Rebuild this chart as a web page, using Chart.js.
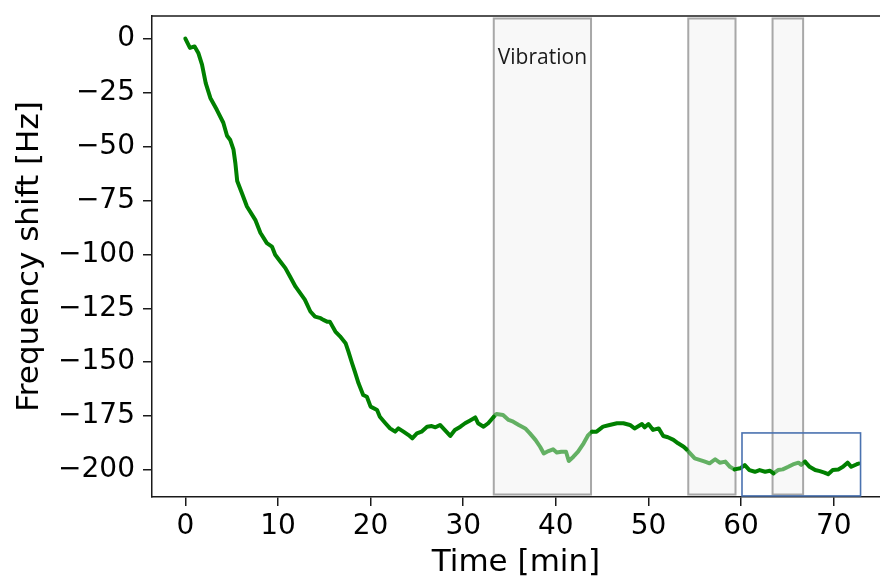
<!DOCTYPE html>
<html>
<head>
<meta charset="utf-8">
<script src="https://cdn.jsdelivr.net/npm/chart.js@4/dist/chart.umd.min.js"></script>
<style>
  html, body { margin: 0; padding: 0; background: #ffffff; }
  #wrap { width: 880px; height: 578px; }
</style>
</head>
<body>
<div id="wrap"><canvas id="c" width="880" height="578"></canvas></div>
<script>
// ---- data ----
const timeMin = [
  0, 0.5, 1.0, 1.4, 1.8, 2.2, 2.7, 3.4, 4.1, 4.5,
  4.85, 5.2, 5.4, 5.6, 6.1, 6.65, 7.55, 8.1, 8.8, 9.35,
  9.7, 10.25, 10.8, 11.3, 11.9, 12.4, 12.9, 13.5, 14.0, 14.6,
  14.9, 15.3, 15.6, 16.2, 16.7, 17.3, 17.6, 18.0, 18.3, 18.7,
  19.2, 19.6, 20.0, 20.7, 21.0, 21.6, 22.1, 22.65, 23.0, 23.55,
  24.1, 24.5, 25.0, 25.5, 26.1, 26.6, 27.0, 27.5, 28.0, 28.6,
  29.1, 29.7, 30.2, 30.7, 31.3, 31.6, 32.2, 32.7, 33.3, 33.6,
  34.3, 34.9, 35.4, 36.0, 36.7, 37.2, 37.8, 38.3, 38.7, 39.2,
  39.7, 40.1, 40.6, 41.1, 41.4, 41.9, 42.4, 43.0, 43.5, 43.9,
  44.4, 45.1, 45.8, 46.6, 47.3, 48.0, 48.5, 49.3, 49.6, 50.0,
  50.5, 51.1, 51.6, 52.1, 52.7, 53.2, 53.8, 54.1, 54.5, 55.0,
  55.6, 56.1, 56.6, 57.2, 57.7, 58.3, 58.8, 59.3, 59.9, 60.4,
  60.9, 61.5, 62.0, 62.6, 63.1, 63.5, 64.0, 64.5, 65.1, 65.6,
  66.2, 66.5, 66.9, 67.4, 68.0, 68.5, 69.0, 69.4, 69.9, 70.5,
  71.0, 71.5, 71.9, 72.5, 72.7
];
const shiftHz = [
  0, -4.3, -3.6, -6.6, -12, -20.6, -27.5, -33, -39, -45,
  -47, -51.5, -57.7, -66, -71.6, -77.8, -84, -90, -94.8, -96.4,
  -100.2, -103.3, -106.4, -110.3, -115, -118, -121, -126.5, -128.9, -129.6,
  -130.4, -131.2, -131.2, -135.8, -138, -141.2, -145, -150.5, -154.4, -159.8,
  -165.2, -166, -170.6, -172.2, -175.3, -178.3, -180.7, -182.2, -180.7, -182.2,
  -183.8, -185.3, -183, -182.2, -179.9, -179.6, -180.2, -179.1, -181.4, -184.2,
  -181.4, -179.9, -178.3, -177.1, -175.6, -178.3, -179.9, -178.3, -175.3, -174,
  -174.5, -176.8, -177.6, -179.1, -180.7, -183, -186, -189.2, -192.3, -191.2,
  -190.4, -191.9, -191.5, -191.5, -195.8, -193.8, -191.5, -187.6, -183.8, -182.2,
  -182.2, -179.9, -179.1, -178.3, -178.3, -179.1, -180.7, -178.7, -180.2, -178.7,
  -181.4, -180.7, -184.2, -184.8, -186, -187.6, -189.2, -190.4, -192.3, -194.6,
  -195.4, -196.1, -196.9, -195, -196.6, -196.1, -198.5, -199.7, -199.2, -197.7,
  -200, -200.8, -200, -200.8, -200.3, -201.5, -200, -199.7, -198.5, -197.4,
  -196.6, -197.6, -196.1, -198.5, -200, -200.5, -201.2, -201.9, -200, -199.7,
  -198.5, -196.6, -198.5, -197.3, -197
];
// vibration periods [min]
const vibrationStart = [33.3, 54.3, 63.4];
const vibrationEnd   = [43.8, 59.4, 66.7];
const vibrationLabel = "Vibration";
// highlighted window (blue box)
const boxTime = [60.1, 72.9];
const boxShift = [-182.8, -212];
// tick labels
const xTicks = [0, 10, 20, 30, 40, 50, 60, 70];
const yTicks = [0, -25, -50, -75, -100, -125, -150, -175, -200];

// ---- styles ----
const GREEN = '#008000';
const GREEN_LIGHT = 'rgba(0,128,0,0.6)';
const AXIS = '#1a1a1a';
const TICK_FONT = { family: 'DejaVu Sans', size: 28 };
const TITLE_FONT = { family: 'DejaVu Sans', size: 31, lineHeight: 1 };

const points = timeMin.map((t, i) => ({ x: t, y: shiftHz[i] }));
const inVibration = t => vibrationStart.some((s, i) => t >= s && t <= vibrationEnd[i]);

const overlayPlugin = {
  id: 'overlay',
  beforeDatasetsDraw(chart) {
    const { ctx, chartArea, scales: { x, y } } = chart;
    ctx.save();
    const yTop = chartArea.top + 2.5;
    const yBot = chartArea.bottom - 2.5;
    vibrationStart.forEach((s, i) => {
      const x0 = x.getPixelForValue(s);
      const x1 = x.getPixelForValue(vibrationEnd[i]);
      ctx.fillStyle = '#f8f8f8';
      ctx.fillRect(x0, yTop, x1 - x0, yBot - yTop);
      ctx.strokeStyle = '#a8a8a8';
      ctx.lineWidth = 2;
      ctx.strokeRect(x0, yTop, x1 - x0, yBot - yTop);
    });
    // label
    const lx = (x.getPixelForValue(vibrationStart[0]) + x.getPixelForValue(vibrationEnd[0])) / 2;
    ctx.fillStyle = '#1a1a1a';
    ctx.font = '21px "Open Sans"';
    ctx.textAlign = 'center';
    ctx.textBaseline = 'middle';
    ctx.fillText(vibrationLabel, lx, y.getPixelForValue(-8.8));
    ctx.restore();
  },
  afterDatasetsDraw(chart) {
    const { ctx, chartArea, scales: { x, y } } = chart;
    ctx.save();
    const bx0 = x.getPixelForValue(boxTime[0]);
    const bx1 = x.getPixelForValue(boxTime[1]);
    const by0 = y.getPixelForValue(boxShift[0]);
    const by1 = Math.min(y.getPixelForValue(boxShift[1]), chartArea.bottom - 1);
    ctx.strokeStyle = '#4a72b0';
    ctx.lineWidth = 1.6;
    ctx.strokeRect(bx0, by0, bx1 - bx0, by1 - by0);
    // top frame line
    ctx.strokeStyle = AXIS;
    ctx.lineWidth = 1.5;
    ctx.beginPath();
    ctx.moveTo(chartArea.left, chartArea.top);
    ctx.lineTo(chartArea.right, chartArea.top);
    ctx.stroke();
    ctx.restore();
  }
};

new Chart(document.getElementById('c'), {
  type: 'line',
  data: {
    datasets: [{
      data: points,
      borderColor: GREEN,
      borderWidth: 4,
      pointRadius: 0,
      tension: 0,
      borderJoinStyle: 'round',
      borderCapStyle: 'round',
      segment: {
        borderColor: ctx => inVibration((ctx.p0.parsed.x + ctx.p1.parsed.x) / 2) ? GREEN_LIGHT : GREEN
      }
    }]
  },
  options: {
    responsive: false,
    animation: false,
    layout: { padding: { top: 16, right: 0, bottom: 0, left: 0 } },
    plugins: { legend: { display: false }, tooltip: { enabled: false } },
    scales: {
      x: {
        type: 'linear',
        min: -3.6,
        max: 75,
        afterBuildTicks: s => { s.ticks = xTicks.map(v => ({ value: v })); },
        afterFit: s => { s.height = 81; s.paddingLeft = 0; s.paddingRight = 0; },
        grid: { drawOnChartArea: false, drawTicks: true, tickLength: 9, color: AXIS, tickColor: AXIS, lineWidth: 1.5 },
        border: { display: true, color: AXIS, width: 1.5 },
        ticks: { font: TICK_FONT, color: '#000', padding: 4, maxRotation: 0, autoSkip: false },
        title: { display: true, text: 'Time [min]', font: TITLE_FONT, color: '#000', padding: { top: 0, bottom: 0 } }
      },
      y: {
        type: 'linear',
        min: -212.5,
        max: 10.5,
        afterBuildTicks: s => { s.ticks = yTicks.map(v => ({ value: v })); },
        afterFit: s => { s.width = 152; s.paddingTop = 0; s.paddingBottom = 0; },
        grid: { drawOnChartArea: false, drawTicks: true, tickLength: 9, color: AXIS, tickColor: AXIS, lineWidth: 1.5 },
        border: { display: true, color: AXIS, width: 1.5 },
        ticks: {
          font: TICK_FONT, color: '#000', padding: 8, autoSkip: false,
          callback: v => v < 0 ? '\u2212' + Math.abs(v) : String(v)
        },
        title: { display: true, text: 'Frequency shift [Hz]', font: TITLE_FONT, color: '#000', padding: { top: 14, bottom: 0 } }
      }
    }
  },
  plugins: [overlayPlugin]
});
</script>
</body>
</html>
